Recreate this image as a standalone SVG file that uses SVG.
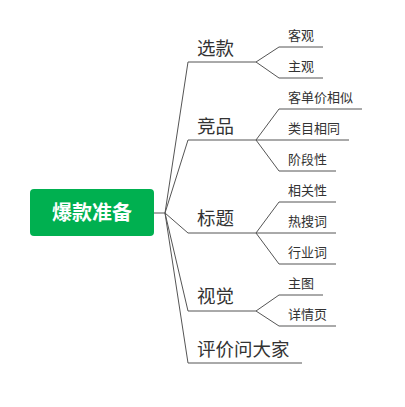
<svg xmlns="http://www.w3.org/2000/svg" width="405" height="407" viewBox="0 0 405 407">
<style>
.ln{stroke:#555;stroke-width:1;fill:none}
.t1{font-family:"Noto Sans CJK SC","Liberation Sans",sans-serif;font-size:18.5px;fill:#333}
.t2{font-family:"Noto Sans CJK SC","Liberation Sans",sans-serif;font-size:13px;fill:#333}
.rt{font-family:"Noto Sans CJK SC","Liberation Sans",sans-serif;font-size:20px;font-weight:bold;fill:#fff}
</style>
<rect width="405" height="407" fill="#fff"/>
<g id="connectors">
<path class="ln" d="M154 213H165"/>
<path class="ln" d="M165 213L188 62H256M165 213L188 140H256M165 213L188 233H256M165 213L188 311H256M165 213L188 363H302"/>
<path class="ln" d="M256 62L279 47H323M256 62L279 78H323"/>
<path class="ln" d="M256 140L279 109H362M256 140H349M256 140L279 171H336"/>
<path class="ln" d="M256 233L279 202H336M256 233H336M256 233L279 264H336"/>
<path class="ln" d="M256 311L279 295H323M256 311L279 326H336"/>
</g>
<g id="root">
<rect x="30" y="189" width="124" height="47" rx="4" fill="#00b050"/>
<text class="rt" x="92" y="220" text-anchor="middle">爆款准备</text>
</g>
<g id="n-xuankuan"><text class="t1" x="197" y="55">选款</text></g>
<g id="n-keguan"><text class="t2" x="288" y="40">客观</text></g>
<g id="n-zhuguan"><text class="t2" x="288" y="71">主观</text></g>
<g id="n-jingpin"><text class="t1" x="197" y="133">竞品</text></g>
<g id="n-kedanjia"><text class="t2" x="288" y="102">客单价相似</text></g>
<g id="n-leimu"><text class="t2" x="288" y="133">类目相同</text></g>
<g id="n-jieduan"><text class="t2" x="288" y="164">阶段性</text></g>
<g id="n-biaoti"><text class="t1" x="197" y="225">标题</text></g>
<g id="n-xiangguan"><text class="t2" x="288" y="195">相关性</text></g>
<g id="n-resou"><text class="t2" x="288" y="226">热搜词</text></g>
<g id="n-hangye"><text class="t2" x="288" y="257">行业词</text></g>
<g id="n-shijue"><text class="t1" x="197" y="303">视觉</text></g>
<g id="n-zhutu"><text class="t2" x="288" y="288">主图</text></g>
<g id="n-xiangqing"><text class="t2" x="288" y="319">详情页</text></g>
<g id="n-pingjia"><text class="t1" x="197" y="356">评价问大家</text></g>
</svg>
